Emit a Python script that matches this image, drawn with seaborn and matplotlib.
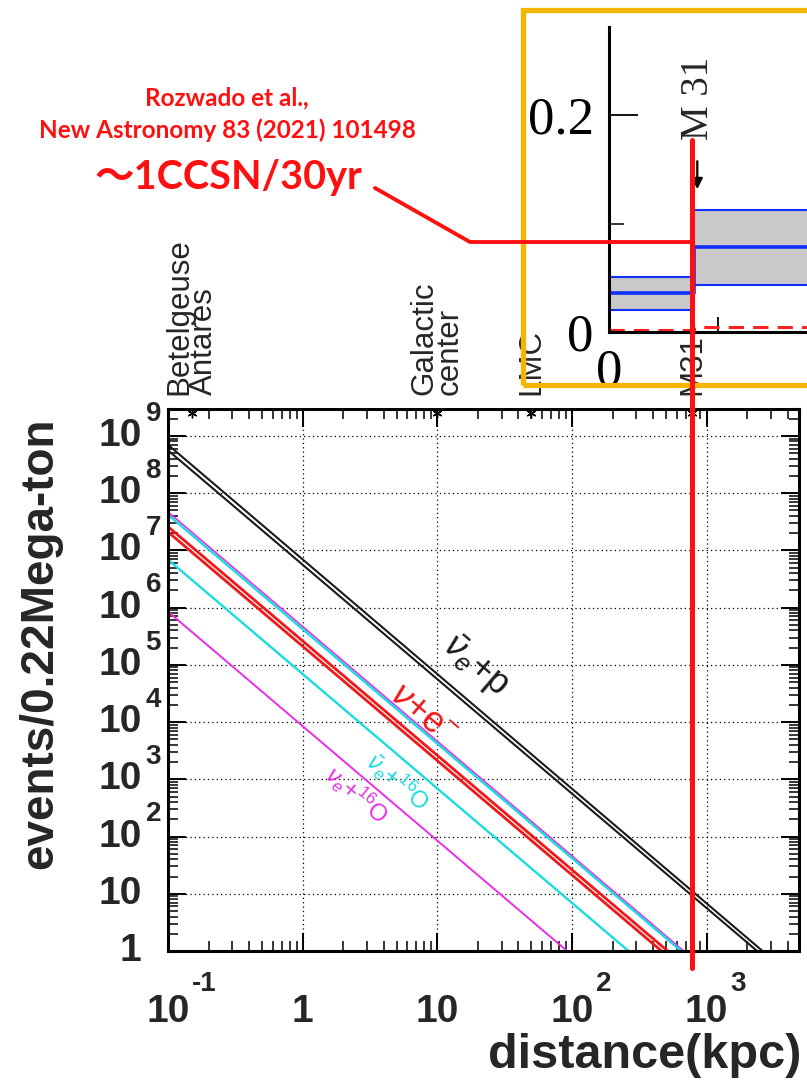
import numpy as np
import pandas as pd
import matplotlib
matplotlib.use("Agg")
import matplotlib.pyplot as plt
import seaborn as sns
from matplotlib.ticker import FixedLocator, LogLocator, NullFormatter
from matplotlib.transforms import blended_transform_factory
from matplotlib.patches import Rectangle
from matplotlib.lines import Line2D

# ---------------- data ----------------
dist_start = 0.1  # kpc, left edge of the plot
line_names = ["nue+16O (a)", "anti-nue+p (a)", "anti-nue+p (b)", "nu+e (a)", "nu+e (b)",
              "anti-nue+16O (a)", "anti-nue+16O (b)", "nue+16O (b)"]
events_at_start = [4.7e7, 7.0e8, 5.6e8, 2.6e7, 2.1e7, 4.2e7, 6.9e6, 8.5e5]   # events at 0.1 kpc
dist_one_event = [675, 2600, 2370, 513, 462, 646, 263, 92]                  # kpc where events = 1
line_colors = ["#e62ee6", "#1a1a1a", "#1a1a1a", "#f01818", "#f01818",
               "#19dcdc", "#19dcdc", "#e62ee6"]
line_widths = [1.2, 1.5, 1.5, 2.0, 2.0, 1.7, 1.7, 1.4]

x_ticks = [0.1, 1, 10, 100, 1000]
x_bases = ["10", "1", "10", "10", "10"]
x_exps = ["-1", "", "", "2", "3"]
y_ticks = [1, 1e1, 1e2, 1e3, 1e4, 1e5, 1e6, 1e7, 1e8, 1e9]
y_bases = ["1", "10", "10", "10", "10", "10", "10", "10", "10", "10"]
y_exps = ["", "", "2", "3", "4", "5", "6", "7", "8", "9"]

object_names = ["Betelgeuse\nAntares", "Galactic\ncenter", "LMC", "M31"]
object_dist = [0.15, 10, 50, 780]  # kpc

curve_labels = [r"$\bar{\nu}_{e}$+p", r"$\nu$+e$^{-}$", r"$\bar{\nu}_{e}$+$^{16}$O", r"$\nu_{e}$+$^{16}$O"]
curve_label_dist = [19.0, 7.7, 5.1, 2.53]
curve_label_events = [9.5e4, 1.35e4, 900, 533]
curve_label_colors = ["#1a1a1a", "#f01818", "#19dcdc", "#e62ee6"]
curve_label_sizes = [26, 26, 17, 17]

# inset (rate vs distance in Mpc)
inset_x = [0.0, 0.78, 1.82]
inset_upper = [0.051, 0.112, 0.112]
inset_mid = [0.036, 0.078, 0.078]
inset_lower = [0.020, 0.043, 0.043]
inset_red = [0.002, 0.005, 0.005]

# ---------------- style ----------------
sns.set_theme(style="white")
plt.rcParams["font.family"] = ["Liberation Sans", "DejaVu Sans"]
plt.rcParams["mathtext.fontset"] = "custom"
plt.rcParams["mathtext.rm"] = "Liberation Sans"
plt.rcParams["mathtext.it"] = "Liberation Sans:italic"
plt.rcParams["mathtext.bf"] = "Liberation Sans:bold"

W, H = 807, 1089
fig = plt.figure(figsize=(W / 100, H / 100), dpi=100)
fig.patch.set_facecolor("white")

def fx(px):
    return px / W

def fy(py):
    return 1 - py / H

# ---------------- main axes ----------------
ax = fig.add_axes([fx(168), fy(951), fx(799) - fx(168), fy(409) - fy(951)])
ax.set_xscale("log")
ax.set_yscale("log")
ax.set_xlim(0.1, 4850)
ax.set_ylim(1, 2.95e9)

rows = []
for name, n0, d1 in zip(line_names, events_at_start, dist_one_event):
    rows.append({"series": name, "distance": dist_start, "events": n0})
    rows.append({"series": name, "distance": d1, "events": 1.0})
df = pd.DataFrame(rows)
for name, col, lw in zip(line_names, line_colors, line_widths):
    sns.lineplot(data=df[df["series"] == name], x="distance", y="events", color=col,
                 lw=lw, ax=ax, estimator=None, sort=False, legend=False)

ax.xaxis.set_major_locator(FixedLocator(x_ticks))
ax.yaxis.set_major_locator(FixedLocator(y_ticks))
ax.xaxis.set_minor_locator(LogLocator(base=10, subs=np.arange(2, 10), numticks=30))
ax.yaxis.set_minor_locator(LogLocator(base=10, subs=np.arange(2, 10), numticks=30))
for axis in (ax.xaxis, ax.yaxis):
    axis.set_major_formatter(NullFormatter())
    axis.set_minor_formatter(NullFormatter())
ax.tick_params(which="both", direction="in", top=True, right=True, bottom=True, left=True,
               labelbottom=False, labelleft=False, colors="black")
ax.tick_params(which="major", length=13, width=1.4)
ax.tick_params(which="minor", length=7, width=1.1)
ax.grid(True, which="major", color="black", linestyle=(0, (1, 2.5)), linewidth=0.9)
ax.grid(False, which="minor")
for s in ax.spines.values():
    s.set_color("black")
    s.set_linewidth(2.2)

# tick labels (ROOT style: base + detached exponent)
for xv, b, e in zip(x_ticks, x_bases, x_exps):
    ax.annotate(b, xy=(xv, 0), xycoords=("data", "axes fraction"), xytext=(0, -44),
                textcoords="offset points", ha="center", va="center", fontsize=28,
                fontweight="bold", annotation_clip=False)
    if e:
        ax.annotate(e, xy=(xv, 0), xycoords=("data", "axes fraction"), xytext=(17, -24),
                    textcoords="offset points", ha="left", va="center", fontsize=20,
                    fontweight="bold", annotation_clip=False)
for yv, b, e in zip(y_ticks, y_bases, y_exps):
    ax.annotate(b, xy=(0, yv), xycoords=("axes fraction", "data"), xytext=(-19, 0),
                textcoords="offset points", ha="right", va="center", fontsize=28,
                fontweight="bold", annotation_clip=False)
    if e:
        ax.annotate(e, xy=(0, yv), xycoords=("axes fraction", "data"), xytext=(-5, 16),
                    textcoords="offset points", ha="right", va="center", fontsize=20,
                    fontweight="bold", annotation_clip=False)

ax.set_xlabel("distance(kpc)", fontsize=35, fontweight="bold", loc="right")
ax.xaxis.set_label_coords((801 - 168) / 631, -(1056 - 951) / 542)
ax.xaxis.label.set_va("center")
ax.xaxis.label.set_ha("right")
ax.set_ylabel("events/0.22Mega-ton", fontsize=33, fontweight="bold")
ax.yaxis.set_label_coords(-(168 - 40) / 631, (951 - 643) / 542)
ax.yaxis.label.set_va("center")

# curve labels
for t, d, n, c, fs in zip(curve_labels, curve_label_dist, curve_label_events,
                          curve_label_colors, curve_label_sizes):
    ax.text(d, n, t, color=c, fontsize=fs, rotation=-40.4, rotation_mode="anchor",
            ha="center", va="center")

# objects on top
ax.plot(object_dist, [0.992] * len(object_dist), transform=ax.get_xaxis_transform(),
        ls="none", marker=(6, 2, 0), ms=7, mew=1.0, color="black", clip_on=False)
for name, d in zip(object_names, object_dist):
    ax.annotate(name, xy=(d, 1), xycoords=("data", "axes fraction"), xytext=(0, 10),
                textcoords="offset points", rotation=90, rotation_mode="anchor",
                ha="left", va="center", fontsize=22.5, linespacing=0.8,
                annotation_clip=False)

# ---------------- inset ----------------
axin = fig.add_axes([fx(609), fy(332), fx(807) - fx(609), fy(27) - fy(332)])
axin.patch.set_alpha(0)
axin.set_xlim(0, 198 / 109)
axin.set_ylim(0, 305 / 1085)
axin.fill_between(inset_x, inset_lower, inset_upper, step="post", color="#c9c9c9", lw=0)
idf = pd.DataFrame({"x": inset_x, "up": inset_upper, "mid": inset_mid, "lo": inset_lower,
                    "red": inset_red})
for col, lw in (("up", 1.5), ("mid", 2.6), ("lo", 1.5)):
    sns.lineplot(data=idf, x="x", y=col, ax=axin, color="#1030ff", lw=lw,
                 drawstyle="steps-post", estimator=None, sort=False)
sns.lineplot(data=idf, x="x", y="red", ax=axin, color="#ff2020", lw=2.2,
             drawstyle="steps-post", estimator=None, sort=False, dashes=False,
             linestyle=(0, (5, 3)))
for side in ("top", "right"):
    axin.spines[side].set_visible(False)
for side in ("left", "bottom"):
    axin.spines[side].set_color("black")
    axin.spines[side].set_linewidth(2.2)
axin.set_xlabel("")
axin.set_ylabel("")
axin.yaxis.set_major_locator(FixedLocator([0, 0.2]))
axin.yaxis.set_minor_locator(FixedLocator([0.1]))
axin.xaxis.set_major_locator(FixedLocator([0, 1]))
axin.set_yticklabels(["0", "0.2"], family="Liberation Serif", fontsize=38)
axin.set_xticklabels(["0", ""], family="Liberation Serif", fontsize=38)
axin.tick_params(axis="y", which="major", direction="in", length=21, width=1.3, pad=11,
                 left=True, right=False, colors="black")
axin.tick_params(axis="y", which="minor", direction="in", length=11, width=1.3, left=True)
axin.tick_params(axis="x", which="major", direction="in", length=11, width=1.3, pad=12,
                 bottom=True, top=False, colors="black")
axin.annotate("", xy=(0.81, 0.129), xytext=(0.81, 0.160),
              arrowprops=dict(arrowstyle="-|>", color="black", lw=1.6, mutation_scale=16))
axin.text(0.818, 0.177, "M 31", rotation=90, rotation_mode="anchor", ha="left",
          va="center", family="Liberation Serif", fontsize=28)

# orange frame around the inset
fig.add_artist(Rectangle((fx(523), fy(385)), 0.5, fy(10) - fy(385), transform=fig.transFigure,
                         fill=False, edgecolor="#f5b400", lw=3.8, clip_on=False, zorder=5))

# ---------------- red annotation ----------------
red = "#ff1010"
blend = blended_transform_factory(ax.transData, fig.transFigure)
fig.add_artist(Line2D([object_dist[3], object_dist[3]], [fy(140), fy(968)], transform=blend,
                      color=red, lw=3.6, zorder=10, clip_on=False))
fig.add_artist(Line2D([fx(375), fx(470), fx(693)], [fy(188), fy(242), fy(242)],
                      transform=fig.transFigure, color=red, lw=2.8, zorder=10, clip_on=False))
fig.text(fx(227), fy(98), "Rozwado et al.,", color=red, family=["Lato", "Noto Sans CJK JP"],
         fontweight="bold", fontsize=17.5, ha="center", va="center")
fig.text(fx(227), fy(130), "New Astronomy 83 (2021) 101498", color=red,
         family=["Lato", "Noto Sans CJK JP"], fontweight="bold", fontsize=17.5,
         ha="center", va="center")
fig.text(fx(95), fy(177), "～1CCSN/30yr", color=red, family=["Lato", "Noto Sans CJK JP"],
         fontweight="bold", fontsize=28.5, ha="left", va="center")

fig.savefig("out.png", dpi=100, facecolor="white")
